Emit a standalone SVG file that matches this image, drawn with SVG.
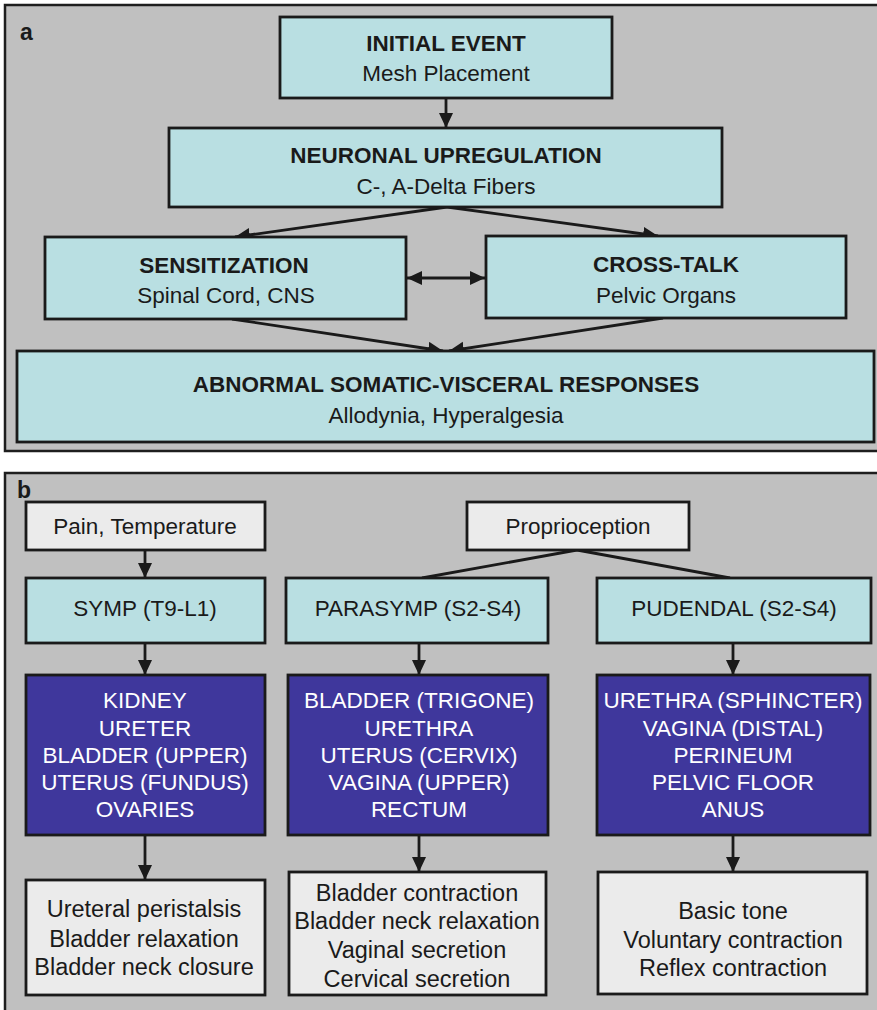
<svg xmlns="http://www.w3.org/2000/svg" width="877" height="1010" viewBox="0 0 877 1010">
<style>
.panel{fill:#c0c0c0;stroke:#1e1e1e;stroke-width:2.5}
.cy{fill:#b9dfe2;stroke:#1a1a1a;stroke-width:2.8}
.bl{fill:#3f379c;stroke:#1a1a1a;stroke-width:2.8}
.lt{fill:#ebebeb;stroke:#1a1a1a;stroke-width:2.8}
text{font-family:"Liberation Sans",Arial,sans-serif;text-anchor:middle;fill:#1a1a1a}
.b{font-weight:bold;font-size:22.5px}
.n{font-size:22.5px}
.m{font-size:23.5px}
.w{fill:#ffffff;font-size:22.5px}
.lab{font-weight:bold;font-size:23px;text-anchor:start}
.c line,.c path{stroke:#1a1a1a;stroke-width:2.8;fill:none}
.arr{marker-end:url(#ah)}
</style>
<defs>
<marker id="ah" markerUnits="userSpaceOnUse" markerWidth="17" markerHeight="15" refX="15" refY="7" orient="auto-start-reverse" viewBox="0 0 17 15">
<path d="M0,0 L15,7 L0,14 Z" fill="#1a1a1a"/>
</marker>
</defs>
<rect class="panel" x="5" y="5" width="885" height="446"/>
<rect class="panel" x="5" y="473" width="885" height="560"/>
<text class="lab" x="20" y="40">a</text>
<text class="lab" x="17" y="498">b</text>

<g class="c" id="connectors">
<line class="arr" x1="446" y1="98" x2="446" y2="128"/>
<line class="arr" x1="447" y1="207" x2="235" y2="237"/>
<line class="arr" x1="447" y1="207" x2="658" y2="236"/>
<line x1="407" y1="278" x2="485" y2="278" marker-start="url(#ah)" marker-end="url(#ah)"/>
<line class="arr" x1="232" y1="319" x2="443" y2="351"/>
<line class="arr" x1="663" y1="318" x2="449" y2="351"/>
<line class="arr" x1="145" y1="550" x2="145" y2="578"/>
<line x1="577" y1="550" x2="422" y2="578"/>
<line x1="577" y1="550" x2="730" y2="578"/>
<line class="arr" x1="145" y1="643" x2="145" y2="675"/>
<line class="arr" x1="419" y1="643" x2="419" y2="675"/>
<line class="arr" x1="733" y1="643" x2="733" y2="675"/>
<line class="arr" x1="145" y1="835" x2="145" y2="880"/>
<line class="arr" x1="419" y1="835" x2="419" y2="872"/>
<line class="arr" x1="733" y1="835" x2="733" y2="872"/>
</g>

<g id="initial-event">
<rect class="cy" x="280" y="17" width="332" height="81"/>
<text class="b" x="446" y="51">INITIAL EVENT</text>
<text class="n" x="446" y="81">Mesh Placement</text>
</g>
<g id="neuronal-upregulation">
<rect class="cy" x="169" y="128" width="553" height="79"/>
<text class="b" x="446" y="163">NEURONAL UPREGULATION</text>
<text class="n" x="446" y="194">C-, A-Delta Fibers</text>
</g>
<g id="sensitization">
<rect class="cy" x="45" y="237" width="361" height="82"/>
<text class="b" x="224" y="273">SENSITIZATION</text>
<text class="n" x="226" y="303">Spinal Cord, CNS</text>
</g>
<g id="cross-talk">
<rect class="cy" x="486" y="236" width="360" height="82"/>
<text class="b" x="666" y="272">CROSS-TALK</text>
<text class="n" x="666" y="303">Pelvic Organs</text>
</g>
<g id="abnormal">
<rect class="cy" x="17" y="351" width="857" height="91"/>
<text class="b" x="446" y="392">ABNORMAL SOMATIC-VISCERAL RESPONSES</text>
<text class="n" x="446" y="423">Allodynia, Hyperalgesia</text>
</g>

<g id="pain-temperature">
<rect class="lt" x="26" y="502" width="239" height="48"/>
<text class="n" x="145" y="534">Pain, Temperature</text>
</g>
<g id="proprioception">
<rect class="lt" x="467" y="502" width="222" height="48"/>
<text class="n" x="578" y="534">Proprioception</text>
</g>
<g id="symp">
<rect class="cy" x="26" y="578" width="239" height="65"/>
<text class="n" x="145" y="616">SYMP (T9-L1)</text>
</g>
<g id="parasymp">
<rect class="cy" x="286" y="578" width="262" height="65"/>
<text class="n" x="418" y="616">PARASYMP (S2-S4)</text>
</g>
<g id="pudendal">
<rect class="cy" x="597" y="578" width="274" height="65"/>
<text class="n" x="734" y="616">PUDENDAL (S2-S4)</text>
</g>

<g id="symp-organs">
<rect class="bl" x="26" y="675" width="239" height="160"/>
<text class="w" x="145" y="708">KIDNEY</text>
<text class="w" x="145" y="736">URETER</text>
<text class="w" x="145" y="763">BLADDER (UPPER)</text>
<text class="w" x="145" y="790">UTERUS (FUNDUS)</text>
<text class="w" x="145" y="817">OVARIES</text>
</g>
<g id="parasymp-organs">
<rect class="bl" x="288" y="675" width="260" height="160"/>
<text class="w" x="419" y="708">BLADDER (TRIGONE)</text>
<text class="w" x="419" y="736">URETHRA</text>
<text class="w" x="419" y="763">UTERUS (CERVIX)</text>
<text class="w" x="419" y="790">VAGINA (UPPER)</text>
<text class="w" x="419" y="817">RECTUM</text>
</g>
<g id="pudendal-organs">
<rect class="bl" x="597" y="675" width="273" height="160"/>
<text class="w" x="733" y="708">URETHRA (SPHINCTER)</text>
<text class="w" x="733" y="736">VAGINA (DISTAL)</text>
<text class="w" x="733" y="763">PERINEUM</text>
<text class="w" x="733" y="790">PELVIC FLOOR</text>
<text class="w" x="733" y="817">ANUS</text>
</g>

<g id="symp-effects">
<rect class="lt" x="26" y="880" width="239" height="115"/>
<text class="m" x="144" y="917">Ureteral peristalsis</text>
<text class="m" x="144" y="947">Bladder relaxation</text>
<text class="m" x="144" y="975">Bladder neck closure</text>
</g>
<g id="parasymp-effects">
<rect class="lt" x="289" y="872" width="257" height="123"/>
<text class="m" x="417" y="901">Bladder contraction</text>
<text class="m" x="417" y="929">Bladder neck relaxation</text>
<text class="m" x="417" y="958">Vaginal secretion</text>
<text class="m" x="417" y="987">Cervical secretion</text>
</g>
<g id="pudendal-effects">
<rect class="lt" x="598" y="872" width="269" height="122"/>
<text class="m" x="733" y="919">Basic tone</text>
<text class="m" x="733" y="948">Voluntary contraction</text>
<text class="m" x="733" y="976">Reflex contraction</text>
</g>
</svg>
